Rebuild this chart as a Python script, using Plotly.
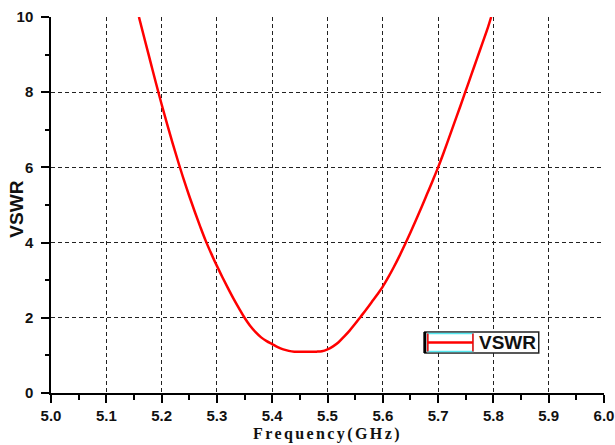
import plotly.graph_objects as go

freq = [5.159, 5.17, 5.18, 5.19, 5.20, 5.21, 5.22, 5.23, 5.24, 5.25, 5.26, 5.27, 5.28, 5.29,
        5.30, 5.31, 5.32, 5.33, 5.34, 5.35, 5.36, 5.37, 5.38, 5.39, 5.40, 5.41, 5.42, 5.43,
        5.44, 5.45, 5.46, 5.47, 5.48, 5.49, 5.50, 5.51, 5.52, 5.53, 5.54, 5.55, 5.56, 5.57,
        5.58, 5.59, 5.60, 5.61, 5.62, 5.63, 5.64, 5.65, 5.66, 5.67, 5.68, 5.69, 5.70, 5.71,
        5.72, 5.73, 5.74, 5.75, 5.76, 5.77, 5.78, 5.79, 5.796]
vswr = [10.0, 9.37, 8.8, 8.23, 7.68, 7.15, 6.64, 6.15, 5.68, 5.24, 4.82, 4.42, 4.04, 3.7,
        3.38, 3.08, 2.79, 2.51, 2.25, 2.0, 1.79, 1.62, 1.48, 1.38, 1.3, 1.22, 1.16, 1.12,
        1.1, 1.1, 1.1, 1.1, 1.1, 1.11, 1.16, 1.24, 1.35, 1.5, 1.66, 1.84, 2.03, 2.22,
        2.42, 2.62, 2.83, 3.08, 3.35, 3.64, 3.95, 4.27, 4.6, 4.94, 5.29, 5.64, 6.0, 6.39,
        6.8, 7.21, 7.62, 8.04, 8.46, 8.88, 9.3, 9.72, 10.0]

x_ticks = [5.0, 5.1, 5.2, 5.3, 5.4, 5.5, 5.6, 5.7, 5.8, 5.9, 6.0]
x_labels = ["5.0", "5.1", "5.2", "5.3", "5.4", "5.5", "5.6", "5.7", "5.8", "5.9", "6.0"]
y_ticks = [0, 2, 4, 6, 8, 10]
y_labels = ["0", "2", "4", "6", "8", "10"]
series_name = "VSWR"
x_title = "Frequency(GHz)"
y_title = "VSWR"

fig = go.Figure()
fig.add_trace(go.Scatter(x=freq, y=vswr, mode="lines", name=series_name,
                         line=dict(color="#ff0000", width=2.5, shape="spline", smoothing=1.0),
                         showlegend=False))

tickfont = dict(family="Liberation Sans, Arial, sans-serif", size=15, color="#111111")
grid = dict(showgrid=True, gridcolor="#222222", gridwidth=1.2, griddash="4px,3px")

fig.update_xaxes(range=[5.0, 6.0], tickvals=x_ticks, ticktext=["<b>" + t + "</b>" for t in x_labels],
                 ticks="outside", ticklen=8, tickwidth=1.5, tickcolor="black",
                 showline=True, linecolor="black", linewidth=1.5, automargin=False,
                 minor=dict(dtick=0.05, tick0=5.0, ticks="outside", ticklen=5,
                            tickwidth=1.5, tickcolor="black", showgrid=False),
                 tickfont=tickfont, zeroline=False,
                 title=dict(text='<b><span style="letter-spacing:2.4px">' + x_title + '</span></b>',
                            font=dict(family="Liberation Serif, Times New Roman, serif",
                                      size=16, color="#111111"), standoff=5),
                 **grid)
fig.update_yaxes(range=[0, 10], tickvals=y_ticks, ticktext=["<b>" + t + "</b>" for t in y_labels],
                 ticks="outside", ticklen=8, tickwidth=1.5, tickcolor="black",
                 showline=True, linecolor="black", linewidth=1.5, automargin=False,
                 minor=dict(dtick=1, tick0=0, ticks="outside", ticklen=4,
                            tickwidth=1.5, tickcolor="black", showgrid=False),
                 tickfont=tickfont, zeroline=False, ticklabelstandoff=5,
                 **grid)

# y axis title
fig.add_annotation(xref="paper", yref="paper", x=-0.0624, y=0.489, xanchor="center", yanchor="middle",
                   text="<b>" + y_title + "</b>", textangle=-90, showarrow=False,
                   font=dict(family="Liberation Sans, Arial, sans-serif", size=19, color="#111111"))

# legend box drawn manually (paper coordinates)
lx0, lx1, ly0, ly1 = 0.676, 0.882, 0.1064, 0.1622
sx0, sx1, sy = 0.6814, 0.763, 0.1343
fig.add_shape(type="rect", xref="paper", yref="paper", x0=lx0, x1=lx1, y0=ly0, y1=ly1,
              line=dict(color="#222222", width=1.5), fillcolor="white", layer="above")
fig.add_shape(type="rect", xref="paper", yref="paper", x0=sx0, x1=sx1, y0=ly0 + 0.004, y1=ly1 - 0.004,
              line=dict(color="#55e8f0", width=1.5), layer="above")
fig.add_shape(type="line", xref="paper", yref="paper", x0=sx0, x1=sx1, y0=sy, y1=sy,
              line=dict(color="#ff0000", width=2.5), layer="above")
fig.add_shape(type="line", xref="paper", yref="paper", x0=sx0, x1=sx0, y0=ly0 + 0.004, y1=ly1 - 0.004,
              line=dict(color="#ff0000", width=1.5), layer="above")
fig.add_shape(type="line", xref="paper", yref="paper", x0=sx1, x1=sx1, y0=ly0 + 0.004, y1=ly1 - 0.004,
              line=dict(color="#ff0000", width=1.5), layer="above")
fig.add_shape(type="line", xref="paper", yref="paper", x0=lx0, x1=lx0, y0=ly0, y1=ly1,
              line=dict(color="black", width=3), layer="above")
fig.add_annotation(xref="paper", yref="paper", x=sx1 + 0.008, y=sy, xanchor="left", yanchor="middle",
                   text="<b>" + series_name + "</b>", showarrow=False,
                   font=dict(family="Liberation Sans, Arial, sans-serif", size=19, color="#111111"))

fig.update_layout(width=615, height=445, margin=dict(l=51, r=11, t=17, b=52),
                  paper_bgcolor="white", plot_bgcolor="white", showlegend=False)

fig.write_html("out.html")
